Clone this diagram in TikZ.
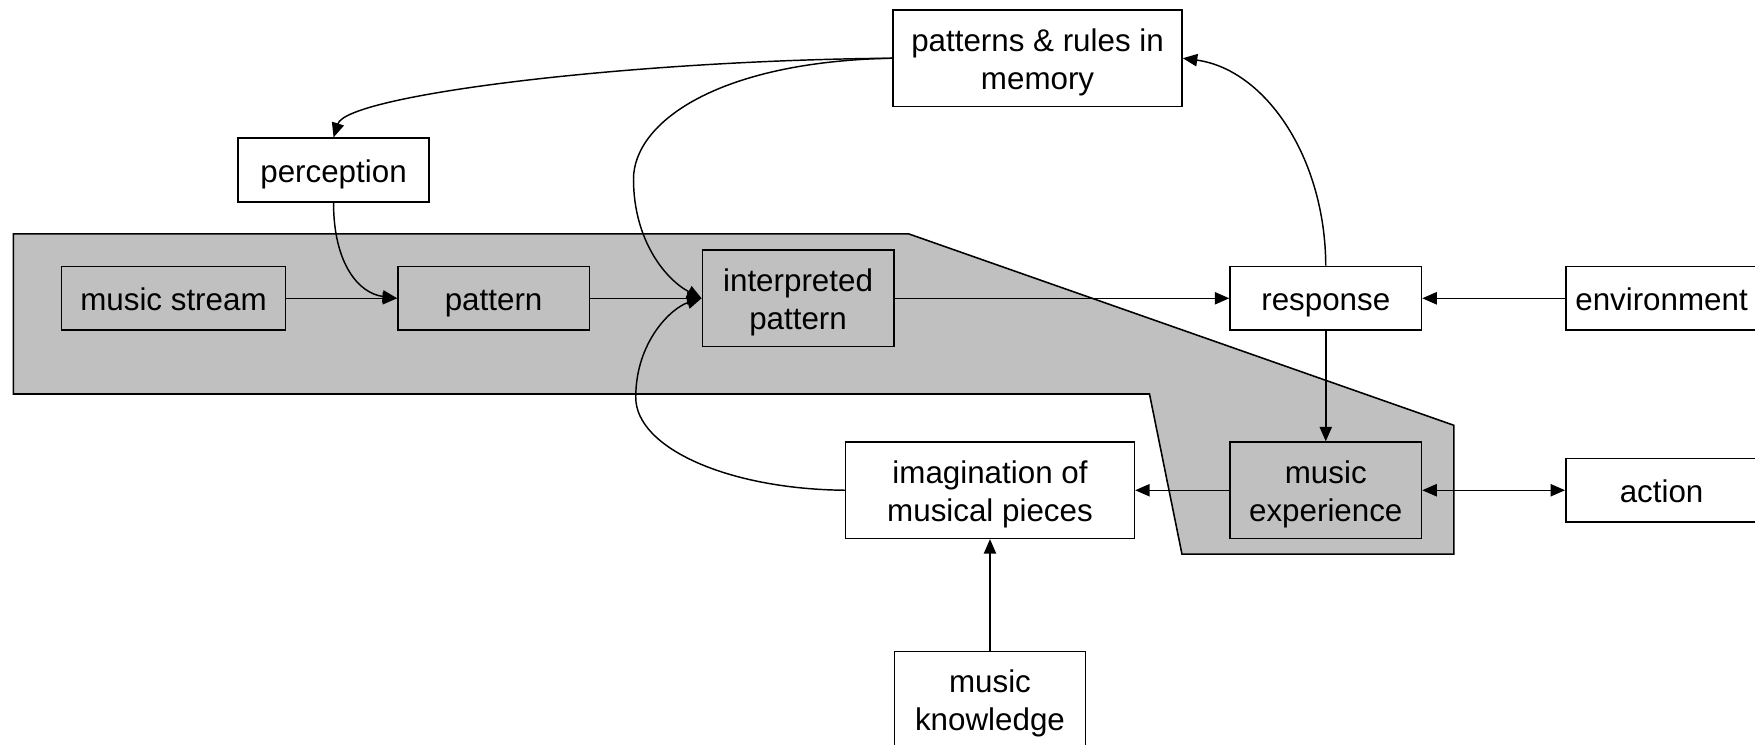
\documentclass[tikz,border=0pt]{standalone}
\usepackage{fontspec}
\setmainfont{Liberation Sans}
\usetikzlibrary{arrows.meta}
\pgfdeclarelayer{background}
\pgfsetlayers{background,main}
\definecolor{shade}{RGB}{192,192,192}
\tikzstyle{box}=[draw,fill=white,line width=1.4pt,inner sep=0pt,minimum width=171pt,minimum height=57pt]
\tikzstyle{tall box}=[box,minimum height=86pt]
\tikzstyle{wide box}=[tall box,minimum width=258pt]
\tikzstyle{stream box}=[box,minimum width=200pt]
\tikzstyle{grey box}=[box,fill=shade]
\tikzstyle{grey tall box}=[tall box,fill=shade]
\tikzstyle{grey stream box}=[stream box,fill=shade]
\tikzstyle{edge}=[draw,line width=1.3pt,-{Triangle[length=13pt,width=11pt]}]
\tikzstyle{both edge}=[edge,{Triangle[length=13pt,width=11pt]}-{Triangle[length=13pt,width=11pt]}]
\tikzstyle{region}=[draw,fill=shade,line width=1.4pt]

\begin{document}
\begin{tikzpicture}[x=1pt,y=-1pt,font=\fontsize{28}{34}\selectfont]
						\useasboundingbox (0,0) rectangle (1568,665);
						% First we draw the boxes
						\foreach \pos/\name/\sty/\txt in {{(927,52)/memory/wide box/patterns \& rules in\\memory},
							{(298,152)/percep/box/perception}, {(155,266.5)/stream/grey stream box/music stream},
							{(441,266.5)/pattern/grey box/pattern}, {(713,266.5)/interp/grey tall box/interpreted\\pattern},
							{(1184.5,266.5)/response/box/response}, {(1484.5,266.5)/env/box/environment},
							{(884.5,438)/imag/wide box/imagination of\\musical pieces}, {(1184.5,438)/exper/grey tall box/music\\experience},
							{(1484.5,438)/action/box/action}, {(884.5,625)/know/tall box/music\\knowledge}}
						\node[\sty] (\name) at \pos {\raisebox{-4pt}[\height][\depth]{\begin{tabular}{@{}c@{}}\txt\end{tabular}}};
				
						% Connect boxes with straight edges
						\foreach \source/ \dest in {stream/pattern, pattern/interp, interp/response, env/response, response/exper, exper/imag, know/imag}
						\path[edge] (\source) -- (\dest);
						\path[both edge] (exper) -- (action);
							
						% Curved edges
						\path[edge] (memory.west) .. controls (560,54) and (310,85) .. (percep.north);
						\path[edge] (memory.west) .. controls (640,55) and (566,110) .. (566,160) .. controls (566,215) and (595,250) .. (interp.west);
						\path[edge] (imag.west) .. controls (650,437) and (568,400) .. (568,355) .. controls (568,305) and (600,275) .. (interp.west);
						\path[edge] (percep.south) .. controls (298,235) and (320,262) .. (pattern.west);
						\path[edge] (response.north) .. controls (1184,140) and (1130,62) .. (memory.east);
					
						\begin{pgfonlayer}{background}
							\path[region] (12,209) -- (812,209) -- (1299,380) -- (1299,495) -- (1056,495) -- (1027,352) -- (12,352) -- cycle;
						\end{pgfonlayer}
					\end{tikzpicture}
\end{document}
